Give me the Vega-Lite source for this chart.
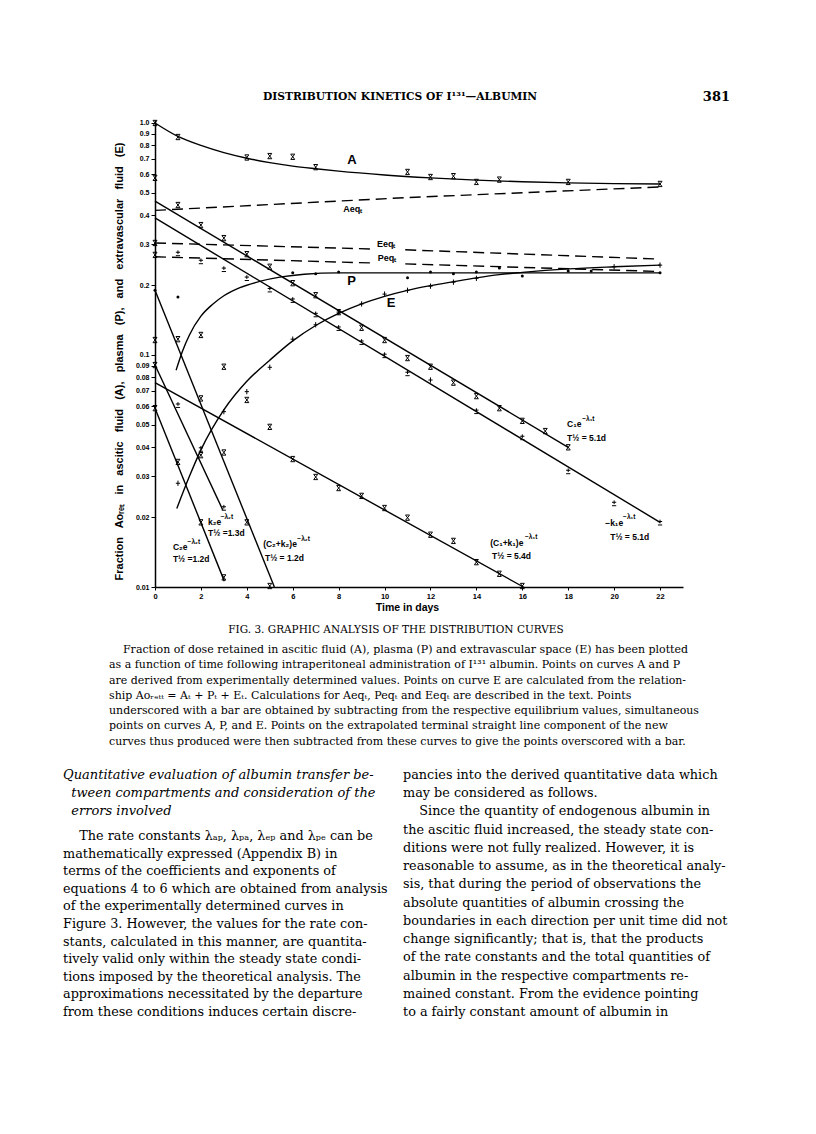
{
"$schema": "https://vega.github.io/schema/vega-lite/v6.json",
"background": "white",
"padding": {"left": 63, "top": 72, "right": 0, "bottom": 0},
"spacing": 0,
"bounds": "flush",
"config": {
  "view": {"stroke": null},
  "axis": {"grid": false, "domainColor": "black", "tickColor": "black", "labelColor": "black", "titleColor": "black", "labelFont": "Liberation Sans", "titleFont": "Liberation Sans"}
},
"datasets": {
  "head": [
    {"part": "running head", "t": "DISTRIBUTION KINETICS OF I¹³¹—ALBUMIN"},
    {"part": "folio", "t": "381"}
  ],
  "curves": [
    {"curve": "A", "day": 0, "val": 1.0}, {"curve": "A", "day": 1, "val": 0.875}, {"curve": "A", "day": 2, "val": 0.8}, {"curve": "A", "day": 3, "val": 0.745}, {"curve": "A", "day": 4, "val": 0.705}, {"curve": "A", "day": 5, "val": 0.675}, {"curve": "A", "day": 6, "val": 0.652}, {"curve": "A", "day": 7, "val": 0.635}, {"curve": "A", "day": 8, "val": 0.62}, {"curve": "A", "day": 10, "val": 0.597}, {"curve": "A", "day": 12, "val": 0.58}, {"curve": "A", "day": 14, "val": 0.567}, {"curve": "A", "day": 16, "val": 0.558}, {"curve": "A", "day": 18, "val": 0.552}, {"curve": "A", "day": 20, "val": 0.548}, {"curve": "A", "day": 22, "val": 0.546},
    {"curve": "P", "day": 0.92, "val": 0.086}, {"curve": "P", "day": 1.2, "val": 0.104}, {"curve": "P", "day": 1.5, "val": 0.122}, {"curve": "P", "day": 2, "val": 0.147}, {"curve": "P", "day": 2.5, "val": 0.165}, {"curve": "P", "day": 3, "val": 0.18}, {"curve": "P", "day": 3.7, "val": 0.195}, {"curve": "P", "day": 4.6, "val": 0.208}, {"curve": "P", "day": 5.5, "val": 0.217}, {"curve": "P", "day": 6.5, "val": 0.223}, {"curve": "P", "day": 8, "val": 0.226}, {"curve": "P", "day": 22, "val": 0.226},
    {"curve": "E", "day": 0.95, "val": 0.0218}, {"curve": "E", "day": 1.5, "val": 0.03}, {"curve": "E", "day": 2, "val": 0.039}, {"curve": "E", "day": 3, "val": 0.058}, {"curve": "E", "day": 4, "val": 0.077}, {"curve": "E", "day": 5, "val": 0.095}, {"curve": "E", "day": 6, "val": 0.115}, {"curve": "E", "day": 7, "val": 0.134}, {"curve": "E", "day": 8, "val": 0.151}, {"curve": "E", "day": 9, "val": 0.166}, {"curve": "E", "day": 10, "val": 0.179}, {"curve": "E", "day": 11, "val": 0.19}, {"curve": "E", "day": 12, "val": 0.199}, {"curve": "E", "day": 13, "val": 0.207}, {"curve": "E", "day": 14, "val": 0.215}, {"curve": "E", "day": 15, "val": 0.222}, {"curve": "E", "day": 16, "val": 0.227}, {"curve": "E", "day": 18, "val": 0.235}, {"curve": "E", "day": 20, "val": 0.24}, {"curve": "E", "day": 22, "val": 0.244},
    {"curve": "C1", "day": 0, "val": 0.46}, {"curve": "C1", "day": 18, "val": 0.04},
    {"curve": "K1", "day": 0, "val": 0.39}, {"curve": "K1", "day": 22, "val": 0.019},
    {"curve": "C1K1", "day": 0, "val": 0.076}, {"curve": "C1K1", "day": 16.05, "val": 0.01},
    {"curve": "C2K2", "day": 0, "val": 0.19}, {"curve": "C2K2", "day": 5.2, "val": 0.01},
    {"curve": "K2", "day": 0, "val": 0.0905}, {"curve": "K2", "day": 2.95, "val": 0.0215},
    {"curve": "C2", "day": 0, "val": 0.059}, {"curve": "C2", "day": 3.02, "val": 0.0106}
  ],
  "eqlines": [
    {"seg": "Aeq", "day": 0, "val": 0.42}, {"seg": "Aeq", "day": 11, "val": 0.477}, {"seg": "Aeq", "day": 22, "val": 0.53},
    {"seg": "Eeq1", "day": 0, "val": 0.304}, {"seg": "Eeq1", "day": 9.6, "val": 0.286},
    {"seg": "Eeq2", "day": 10.9, "val": 0.284}, {"seg": "Eeq2", "day": 22, "val": 0.259},
    {"seg": "Peq1", "day": 0, "val": 0.265}, {"seg": "Peq1", "day": 9.6, "val": 0.249},
    {"seg": "Peq2", "day": 10.9, "val": 0.247}, {"seg": "Peq2", "day": 22, "val": 0.229}
  ],
  "marks": [
    {"sym": "x", "day": 0, "val": 1.0}, {"sym": "x", "day": 1, "val": 0.87}, {"sym": "x", "day": 4, "val": 0.71}, {"sym": "x", "day": 5, "val": 0.72}, {"sym": "x", "day": 6, "val": 0.715}, {"sym": "x", "day": 7, "val": 0.645}, {"sym": "x", "day": 11, "val": 0.615}, {"sym": "x", "day": 12, "val": 0.585}, {"sym": "x", "day": 13, "val": 0.59}, {"sym": "x", "day": 14, "val": 0.557}, {"sym": "x", "day": 15, "val": 0.57}, {"sym": "x", "day": 18, "val": 0.557}, {"sym": "x", "day": 22, "val": 0.546},
    {"sym": "x", "day": 0, "val": 0.58}, {"sym": "x", "day": 0, "val": 0.304}, {"sym": "x", "day": 0, "val": 0.27}, {"sym": "x", "day": 0, "val": 0.116}, {"sym": "x", "day": 0, "val": 0.0905}, {"sym": "x", "day": 0, "val": 0.059},
    {"sym": "x", "day": 1, "val": 0.443}, {"sym": "x", "day": 2, "val": 0.363}, {"sym": "x", "day": 3, "val": 0.319}, {"sym": "x", "day": 4, "val": 0.272}, {"sym": "x", "day": 5, "val": 0.24}, {"sym": "x", "day": 6, "val": 0.204}, {"sym": "x", "day": 7, "val": 0.181}, {"sym": "x", "day": 8, "val": 0.153}, {"sym": "x", "day": 9, "val": 0.131}, {"sym": "x", "day": 10, "val": 0.116}, {"sym": "x", "day": 11, "val": 0.097}, {"sym": "x", "day": 12, "val": 0.089}, {"sym": "x", "day": 13, "val": 0.076}, {"sym": "x", "day": 14, "val": 0.0665}, {"sym": "x", "day": 15, "val": 0.059}, {"sym": "x", "day": 16, "val": 0.052}, {"sym": "x", "day": 17, "val": 0.047}, {"sym": "x", "day": 18, "val": 0.04},
    {"sym": "x", "day": 1, "val": 0.117}, {"sym": "x", "day": 2, "val": 0.122}, {"sym": "x", "day": 3, "val": 0.089}, {"sym": "x", "day": 4, "val": 0.064}, {"sym": "x", "day": 5, "val": 0.049}, {"sym": "x", "day": 2, "val": 0.065}, {"sym": "x", "day": 3, "val": 0.038}, {"sym": "x", "day": 4, "val": 0.019}, {"sym": "x", "day": 5, "val": 0.0101}, {"sym": "x", "day": 1, "val": 0.0346}, {"sym": "x", "day": 2, "val": 0.019}, {"sym": "x", "day": 3, "val": 0.011}, {"sym": "x", "day": 2, "val": 0.037},
    {"sym": "x", "day": 6, "val": 0.0356}, {"sym": "x", "day": 7, "val": 0.0298}, {"sym": "x", "day": 8, "val": 0.0267}, {"sym": "x", "day": 9, "val": 0.0247}, {"sym": "x", "day": 10, "val": 0.0219}, {"sym": "x", "day": 11, "val": 0.0199}, {"sym": "x", "day": 12, "val": 0.0168}, {"sym": "x", "day": 13, "val": 0.0158}, {"sym": "x", "day": 14, "val": 0.0128}, {"sym": "x", "day": 15, "val": 0.0114}, {"sym": "x", "day": 16, "val": 0.0101},
    {"sym": "±", "day": 1, "val": 0.275}, {"sym": "±", "day": 2, "val": 0.254}, {"sym": "±", "day": 3, "val": 0.235}, {"sym": "±", "day": 4, "val": 0.215}, {"sym": "±", "day": 5, "val": 0.192}, {"sym": "±", "day": 6, "val": 0.173}, {"sym": "±", "day": 7, "val": 0.15}, {"sym": "±", "day": 8, "val": 0.131}, {"sym": "±", "day": 9, "val": 0.114}, {"sym": "±", "day": 10, "val": 0.1}, {"sym": "±", "day": 11, "val": 0.0836}, {"sym": "±", "day": 14, "val": 0.0574}, {"sym": "±", "day": 16, "val": 0.0443}, {"sym": "±", "day": 18, "val": 0.0316}, {"sym": "±", "day": 20, "val": 0.023}, {"sym": "±", "day": 22, "val": 0.019}, {"sym": "±", "day": 1, "val": 0.061}, {"sym": "±", "day": 2, "val": 0.0395}, {"sym": "±", "day": 3, "val": 0.022},
    {"sym": "+", "day": 1, "val": 0.028}, {"sym": "+", "day": 3, "val": 0.057}, {"sym": "+", "day": 4, "val": 0.0695}, {"sym": "+", "day": 5, "val": 0.0885}, {"sym": "+", "day": 6, "val": 0.117}, {"sym": "+", "day": 7, "val": 0.135}, {"sym": "+", "day": 8, "val": 0.153}, {"sym": "+", "day": 9, "val": 0.166}, {"sym": "+", "day": 10, "val": 0.183}, {"sym": "+", "day": 11, "val": 0.19}, {"sym": "+", "day": 12, "val": 0.198}, {"sym": "+", "day": 13, "val": 0.206}, {"sym": "+", "day": 14, "val": 0.214}, {"sym": "+", "day": 20, "val": 0.24}, {"sym": "+", "day": 22, "val": 0.244}, {"sym": "+", "day": 12, "val": 0.078}
  ],
  "dots": [
    {"day": 0, "val": 0.19}, {"day": 1, "val": 0.178}, {"day": 6, "val": 0.226}, {"day": 7, "val": 0.224}, {"day": 8, "val": 0.228}, {"day": 11, "val": 0.215}, {"day": 12, "val": 0.228}, {"day": 13, "val": 0.224}, {"day": 14, "val": 0.228}, {"day": 15, "val": 0.237}, {"day": 16, "val": 0.219}, {"day": 18, "val": 0.23}, {"day": 19, "val": 0.23}, {"day": 22, "val": 0.226}
  ],
  "notes": [
    {"kind": "curve", "t": "A", "day": 8.37, "val": 0.693},
    {"kind": "curve", "t": "P", "day": 8.37, "val": 0.208},
    {"kind": "curve", "t": "E", "day": 10.1, "val": 0.168},
    {"kind": "eqlabel", "t": "Aeqₜ", "day": 8.2, "val": 0.426},
    {"kind": "eqlabel", "t": "Eeqₜ", "day": 9.67, "val": 0.3},
    {"kind": "eqlabel", "t": "Peqₜ", "day": 9.7, "val": 0.262},
    {"kind": "eq", "t": "C₁e", "day": 17.95, "val": 0.0505},
    {"kind": "sup", "t": "−λ₁t", "day": 18.61, "val": 0.0532},
    {"kind": "eq", "t": "T½ = 5.1d", "day": 17.95, "val": 0.044},
    {"kind": "eq", "t": "−k₁e", "day": 19.61, "val": 0.0189},
    {"kind": "sup", "t": "−λ₁t", "day": 20.39, "val": 0.02},
    {"kind": "eq", "t": "T½ = 5.1d", "day": 19.83, "val": 0.0164},
    {"kind": "eq", "t": "(C₁+k₁)e", "day": 14.6, "val": 0.0155},
    {"kind": "sup", "t": "−λ₁t", "day": 16.12, "val": 0.0164},
    {"kind": "eq", "t": "T½ = 5.4d", "day": 14.68, "val": 0.0136},
    {"kind": "eq", "t": "k₂e", "day": 2.31, "val": 0.0191},
    {"kind": "sup", "t": "−λ₂t", "day": 2.86, "val": 0.0201},
    {"kind": "eq", "t": "T½ =1.3d", "day": 2.31, "val": 0.0171},
    {"kind": "eq", "t": "C₂e", "day": 0.78, "val": 0.0149},
    {"kind": "sup", "t": "−λ₂t", "day": 1.42, "val": 0.0157},
    {"kind": "eq", "t": "T½ =1.2d", "day": 0.78, "val": 0.0132},
    {"kind": "eq", "t": "(C₂+k₂)e", "day": 4.71, "val": 0.0153},
    {"kind": "sup", "t": "−λ₂t", "day": 6.2, "val": 0.0161},
    {"kind": "eq", "t": "T½ = 1.2d", "day": 4.79, "val": 0.0133}
  ],
  "lines": [
    {"block": "caption title", "col": "centre", "line": 0, "t": "FIG. 3.  GRAPHIC ANALYSIS OF THE DISTRIBUTION CURVES"},
    {"block": "caption", "col": "left", "line": 0, "t": "\u200b\u00a0\u00a0\u00a0\u00a0Fraction of dose retained in ascitic fluid (A), plasma (P) and extravascular space (E) has been plotted"},
    {"block": "caption", "col": "left", "line": 1, "t": "as a function of time following intraperitoneal administration of I¹³¹ albumin.  Points on curves A and P"},
    {"block": "caption", "col": "left", "line": 2, "t": "are derived from experimentally determined values.  Points on curve E are calculated from the relation-"},
    {"block": "caption", "col": "left", "line": 3, "t": "ship Aoᵣₑₜₜ = Aₜ + Pₜ + Eₜ.  Calculations for Aeqₜ, Peqₜ and Eeqₜ are described in the text.  Points"},
    {"block": "caption", "col": "left", "line": 4, "t": "underscored with a bar are obtained by subtracting from the respective equilibrium values, simultaneous"},
    {"block": "caption", "col": "left", "line": 5, "t": "points on curves A, P, and E.  Points on the extrapolated terminal straight line component of the new"},
    {"block": "caption", "col": "left", "line": 6, "t": "curves thus produced were then subtracted from these curves to give the points overscored with a bar."},
    {"block": "heading", "col": "left", "line": 0, "t": "Quantitative evaluation of albumin transfer be-"},
    {"block": "heading", "col": "left", "line": 1, "t": "\u200b\u00a0\u00a0tween compartments and consideration of the"},
    {"block": "heading", "col": "left", "line": 2, "t": "\u200b\u00a0\u00a0errors involved"},
    {"block": "body left", "col": "left", "line": 0, "t": "\u200b\u00a0\u00a0\u00a0\u00a0The rate constants λₐₚ, λₚₐ, λₑₚ and λₚₑ can be"},
    {"block": "body left", "col": "left", "line": 1, "t": "mathematically expressed (Appendix B) in"},
    {"block": "body left", "col": "left", "line": 2, "t": "terms of the coefficients and exponents of"},
    {"block": "body left", "col": "left", "line": 3, "t": "equations 4 to 6 which are obtained from analysis"},
    {"block": "body left", "col": "left", "line": 4, "t": "of the experimentally determined curves in"},
    {"block": "body left", "col": "left", "line": 5, "t": "Figure 3.  However, the values for the rate con-"},
    {"block": "body left", "col": "left", "line": 6, "t": "stants, calculated in this manner, are quantita-"},
    {"block": "body left", "col": "left", "line": 7, "t": "tively valid only within the steady state condi-"},
    {"block": "body left", "col": "left", "line": 8, "t": "tions imposed by the theoretical analysis.  The"},
    {"block": "body left", "col": "left", "line": 9, "t": "approximations necessitated by the departure"},
    {"block": "body left", "col": "left", "line": 10, "t": "from these conditions induces certain discre-"},
    {"block": "body right", "col": "right", "line": 0, "t": "pancies into the derived quantitative data which"},
    {"block": "body right", "col": "right", "line": 1, "t": "may be considered as follows."},
    {"block": "body right", "col": "right", "line": 2, "t": "\u200b\u00a0\u00a0\u00a0\u00a0Since the quantity of endogenous albumin in"},
    {"block": "body right", "col": "right", "line": 3, "t": "the ascitic fluid increased, the steady state con-"},
    {"block": "body right", "col": "right", "line": 4, "t": "ditions were not fully realized.  However, it is"},
    {"block": "body right", "col": "right", "line": 5, "t": "reasonable to assume, as in the theoretical analy-"},
    {"block": "body right", "col": "right", "line": 6, "t": "sis, that during the period of observations the"},
    {"block": "body right", "col": "right", "line": 7, "t": "absolute quantities of albumin crossing the"},
    {"block": "body right", "col": "right", "line": 8, "t": "boundaries in each direction per unit time did not"},
    {"block": "body right", "col": "right", "line": 9, "t": "change significantly; that is, that the products"},
    {"block": "body right", "col": "right", "line": 10, "t": "of the rate constants and the total quantities of"},
    {"block": "body right", "col": "right", "line": 11, "t": "albumin in the respective compartments re-"},
    {"block": "body right", "col": "right", "line": 12, "t": "mained constant.  From the evidence pointing"},
    {"block": "body right", "col": "right", "line": 13, "t": "to a fairly constant amount of albumin in"}
  ]
},
"vconcat": [
  {
    "width": 528, "height": 48,
    "data": {"name": "head"},
    "layer": [
      {
        "transform": [{"filter": "datum.part === 'running head'"}],
        "mark": {"type": "text", "font": "DejaVu Serif", "fontSize": 10.7, "fontWeight": "bold", "align": "center", "baseline": "middle", "color": "black"},
        "encoding": {
          "x": {"field": "part", "type": "nominal", "scale": {"type": "point", "domain": ["running head"], "range": [245, 245]}, "axis": null},
          "y": {"field": "part", "type": "nominal", "scale": {"type": "point", "range": [25, 25]}, "axis": null},
          "text": {"field": "t"}
        }
      },
      {
        "transform": [{"filter": "datum.part === 'folio'"}],
        "mark": {"type": "text", "font": "DejaVu Serif", "fontSize": 13, "fontWeight": "bold", "align": "right", "baseline": "middle", "color": "black"},
        "encoding": {
          "x": {"field": "part", "type": "nominal", "scale": {"type": "point", "domain": ["folio"], "range": [575, 575]}, "axis": null},
          "y": {"field": "part", "type": "nominal", "scale": {"type": "point", "range": [25, 25]}, "axis": null},
          "text": {"field": "t"}
        }
      }
    ],
    "resolve": {"scale": {"x": "independent", "y": "independent"}}
  },
  {
    "width": 528, "height": 467,
    "encoding": {
      "x": {"field": "day", "type": "quantitative", "scale": {"domain": [0, 23], "nice": false, "zero": false},
        "axis": {"values": [0, 2, 4, 6, 8, 10, 12, 14, 16, 18, 20, 22], "title": "Time  in  days", "titleX": 252, "titleFontSize": 10.5, "titleFontWeight": "bold", "titlePadding": 3, "labelFontSize": 7.5, "labelFontWeight": "bold", "labelPadding": 2, "tickSize": 3, "domainWidth": 1.5, "labelFlush": false, "labelOverlap": false}},
      "y": {"field": "val", "type": "quantitative", "scale": {"type": "log", "domain": [0.01, 1.03], "nice": false},
        "axis": {"values": [1, 0.9, 0.8, 0.7, 0.6, 0.5, 0.4, 0.3, 0.2, 0.1, 0.09, 0.08, 0.07, 0.06, 0.05, 0.04, 0.03, 0.02, 0.01],
          "labelExpr": "datum.value >= 0.095 ? format(datum.value, '.1f') : format(datum.value, '.2f')",
          "labelFontSize": 7, "labelFontWeight": "bold", "labelPadding": 2, "tickSize": 4, "domainWidth": 1.5, "labelOverlap": false, "labelFlush": false,
          "title": "Fraction\u00a0\u00a0 Aoᵣₑₜ\u00a0\u00a0 in\u00a0\u00a0 ascitic\u00a0\u00a0 fluid\u00a0\u00a0 (A),\u00a0\u00a0 plasma\u00a0\u00a0 (P),\u00a0\u00a0 and\u00a0\u00a0 extravascular\u00a0\u00a0 fluid\u00a0\u00a0 (E)",
          "titleFontSize": 11, "titleFontWeight": "bold", "titleX": -31, "titleY": 241}}
    },
    "layer": [
      {"data": {"name": "eqlines"}, "mark": {"type": "line", "color": "black", "strokeWidth": 1.4, "strokeDash": [11, 6]}, "encoding": {"detail": {"field": "seg"}}},
      {"data": {"name": "curves"}, "mark": {"type": "line", "color": "black", "strokeWidth": 1.4, "interpolate": "monotone"}, "encoding": {"detail": {"field": "curve"}}},
      {"data": {"name": "marks"}, "mark": {"type": "point", "filled": false, "color": "black", "strokeWidth": 1, "size": 28, "opacity": 1},
        "encoding": {"shape": {"field": "sym", "type": "nominal", "legend": null, "scale": {"domain": ["x", "+", "±"], "range": ["M-0.7,-0.9L0.7,0.9M0.7,-0.9L-0.7,0.9M-0.8,-1H0.8M-0.8,1H0.8", "M0,-1V1M-0.8,0H0.8", "M0,-1V0.4M-0.8,-0.3H0.8M-0.8,1H0.8"]}}}},
      {"data": {"name": "dots"}, "mark": {"type": "circle", "color": "black", "size": 9, "opacity": 1}},
      {"data": {"name": "notes"}, "transform": [{"filter": "datum.kind === 'curve'"}], "mark": {"type": "text", "font": "Liberation Sans", "fontWeight": "bold", "fontSize": 13, "align": "left", "baseline": "middle", "color": "black"}, "encoding": {"text": {"field": "t"}}},
      {"data": {"name": "notes"}, "transform": [{"filter": "datum.kind === 'eqlabel'"}], "mark": {"type": "text", "font": "Liberation Sans", "fontWeight": "bold", "fontSize": 9, "align": "left", "baseline": "middle", "color": "black"}, "encoding": {"text": {"field": "t"}}},
      {"data": {"name": "notes"}, "transform": [{"filter": "datum.kind === 'eq'"}], "mark": {"type": "text", "font": "Liberation Sans", "fontWeight": "bold", "fontSize": 8.5, "align": "left", "baseline": "middle", "color": "black"}, "encoding": {"text": {"field": "t"}}},
      {"data": {"name": "notes"}, "transform": [{"filter": "datum.kind === 'sup'"}], "mark": {"type": "text", "font": "Liberation Sans", "fontWeight": "bold", "fontSize": 6.5, "align": "left", "baseline": "middle", "color": "black"}, "encoding": {"text": {"field": "t"}}},
      {"data": {"values": [{"edge": "right frame"}]}, "mark": {"type": "rule", "color": "black", "strokeWidth": 1.5}, "encoding": {"x": {"datum": 23}, "y": {"datum": 0.01}, "y2": {"datum": 1.03}}}
    ]
  },
  {
    "width": 528, "height": 547,
    "data": {"name": "lines"},
    "layer": [
      {
        "transform": [{"filter": "datum.block === 'caption title'"}],
        "mark": {"type": "text", "font": "DejaVu Serif", "fontSize": 10.5, "align": "center", "baseline": "middle", "color": "black"},
        "encoding": {
          "x": {"field": "col", "type": "nominal", "scale": {"type": "point", "domain": ["centre"], "range": [241, 241]}, "axis": null},
          "y": {"field": "line", "type": "quantitative", "scale": {"domain": [0, 1], "range": [43, 60], "nice": false, "zero": false}, "axis": null},
          "text": {"field": "t"}
        }
      },
      {
        "transform": [{"filter": "datum.block === 'caption'"}],
        "mark": {"type": "text", "font": "DejaVu Serif", "fontSize": 11, "align": "left", "baseline": "middle", "color": "black"},
        "encoding": {
          "x": {"field": "col", "type": "nominal", "scale": {"type": "point", "domain": ["left"], "range": [-46, -46]}, "axis": null},
          "y": {"field": "line", "type": "quantitative", "scale": {"domain": [0, 6], "range": [63, 154.5], "nice": false, "zero": false}, "axis": null},
          "text": {"field": "t"}
        }
      },
      {
        "transform": [{"filter": "datum.block === 'heading'"}],
        "mark": {"type": "text", "font": "DejaVu Serif", "fontSize": 13, "fontStyle": "italic", "align": "left", "baseline": "middle", "color": "black"},
        "encoding": {
          "x": {"field": "col", "type": "nominal", "scale": {"type": "point", "domain": ["left"], "range": [-92, -92]}, "axis": null},
          "y": {"field": "line", "type": "quantitative", "scale": {"domain": [0, 2], "range": [188, 224], "nice": false, "zero": false}, "axis": null},
          "text": {"field": "t"}
        }
      },
      {
        "transform": [{"filter": "datum.block === 'body left'"}],
        "mark": {"type": "text", "font": "DejaVu Serif", "fontSize": 12.8, "align": "left", "baseline": "middle", "color": "black"},
        "encoding": {
          "x": {"field": "col", "type": "nominal", "scale": {"type": "point", "domain": ["left"], "range": [-92, -92]}, "axis": null},
          "y": {"field": "line", "type": "quantitative", "scale": {"domain": [0, 10], "range": [249, 425], "nice": false, "zero": false}, "axis": null},
          "text": {"field": "t"}
        }
      },
      {
        "transform": [{"filter": "datum.block === 'body right'"}],
        "mark": {"type": "text", "font": "DejaVu Serif", "fontSize": 12.8, "align": "left", "baseline": "middle", "color": "black"},
        "encoding": {
          "x": {"field": "col", "type": "nominal", "scale": {"type": "point", "domain": ["right"], "range": [248, 248]}, "axis": null},
          "y": {"field": "line", "type": "quantitative", "scale": {"domain": [0, 13], "range": [188, 425], "nice": false, "zero": false}, "axis": null},
          "text": {"field": "t"}
        }
      }
    ],
    "resolve": {"scale": {"x": "independent", "y": "independent"}}
  }
]
}
